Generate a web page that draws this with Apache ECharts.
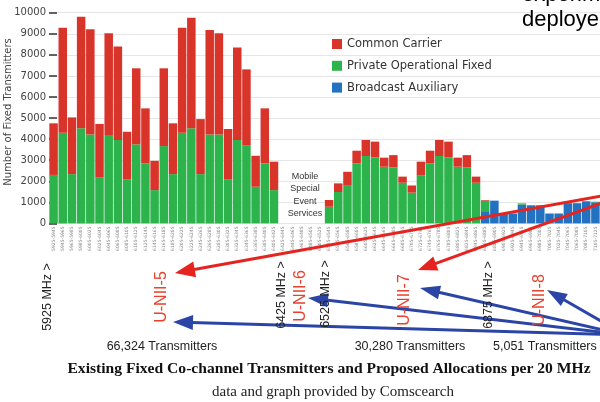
<!DOCTYPE html>
<html><head><meta charset="utf-8">
<script src="https://cdn.jsdelivr.net/npm/echarts/dist/echarts.min.js"></script>
<style>html,body{margin:0;padding:0;background:#fff;overflow:hidden}#c{width:600px;height:402px}</style>
</head><body><div id="c"></div>
<script>
// 20 MHz channel categories
const channels = [
 "5925-5945","5945-5965","5965-5985","5985-6005","6005-6025","6025-6045","6045-6065","6065-6085","6085-6105","6105-6125",
 "6125-6145","6145-6165","6165-6185","6185-6205","6205-6225","6225-6245","6245-6265","6265-6285","6285-6305","6305-6325",
 "6325-6345","6345-6365","6365-6385","6385-6405","6405-6425",
 "6425-6445","6445-6465","6465-6485","6485-6505","6505-6525",
 "6525-6545","6545-6565","6565-6585","6585-6605","6605-6625","6625-6645","6645-6665","6665-6685","6685-6705","6705-6725",
 "6725-6745","6745-6765","6765-6785","6785-6805","6805-6825","6825-6845","6845-6865",
 "6865-6885","6885-6905","6905-6925","6925-6945","6945-6965","6965-6985","6985-7005","7005-7025","7025-7045","7045-7065",
 "7065-7085","7085-7105","7105-7125"
];
const commonCarrier = [
 2450,4990,2690,5300,4990,2550,4830,4430,2250,3610,2610,1390,3690,2410,4990,5250,2610,4960,4800,2380,4390,3620,1470,2610,1350,
 null,null,null,null,null,
 320,410,630,600,760,750,430,580,290,340,640,600,760,750,430,580,290,
 30,0,0,0,0,0,0,0,0,0,0,0,0
];
const privateFixed = [
 2300,4300,2340,4510,4220,2170,4190,3960,2100,3750,2850,1580,3670,2340,4300,4510,2340,4220,4220,2100,3960,3690,1740,2850,1580,
 null,null,null,null,null,
 790,1490,1820,2850,3200,3130,2690,2660,1930,1460,2290,2850,3200,3130,2690,2660,1930,
 500,0,0,0,60,0,0,0,0,60,0,0,30
];
const broadcastAux = [
 0,0,0,0,0,0,0,0,0,0,0,0,0,0,0,0,0,0,0,0,0,0,0,0,0,
 null,null,null,null,null,
 0,0,0,0,0,0,0,0,0,0,0,0,0,0,0,0,0,
 580,1080,470,470,890,860,860,470,470,920,960,1050,1000
];
const seriesNames = ["Common Carrier","Private Operational Fixed","Broadcast Auxiliary"];
const bandLabels = ["U-NII-5","U-NII-6","U-NII-7","U-NII-8"];
const edgeLabels = ["5925 MHz >","6425 MHz >","6525 MHz >","6875 MHz >"];
const countLabels = ["66,324 Transmitters","30,280 Transmitters","5,051 Transmitters"];

const RED = '#d8342a', GREEN = '#2cb34c', BLUE = '#2372c2';
const AR = '#e5231f', AB = '#2b45a6';

function arrow(sx, sy, tx, ty, color, L, W) {
  const dx = tx - sx, dy = ty - sy, len = Math.hypot(dx, dy);
  const ux = dx / len, uy = dy / len, nx = -uy, ny = ux;
  const bx = tx - ux * L, by = ty - uy * L;
  return [
    {type:'line', z:50, shape:{x1:sx,y1:sy,x2:bx+ux*2,y2:by+uy*2}, style:{stroke:color,lineWidth:3}},
    {type:'polygon', z:51, shape:{points:[[tx,ty],[bx+nx*W/2,by+ny*W/2],[bx-nx*W/2,by-ny*W/2]]}, style:{fill:color}}
  ];
}
function vtext(x, y, text, size, color, family, weight) {
  return {type:'text', z:60, x:x, y:y, rotation:Math.PI/2,
    style:{text:text, x:0, y:0, align:'center', verticalAlign:'middle', fill:color,
      font:(weight||'normal') + ' ' + size + 'px ' + (family||'"Liberation Sans", Arial, sans-serif')}};
}
function htext(x, y, text, size, color, family, weight, align) {
  return {type:'text', z:60, x:x, y:y,
    style:{text:text, x:0, y:0, align:align||'center', verticalAlign:'middle', fill:color,
      font:(weight||'normal') + ' ' + size + 'px ' + (family||'"Liberation Sans", Arial, sans-serif')}};
}

const graphics = [];
graphics.push(...arrow(640,189,175,273,AR,20,16));
graphics.push(...arrow(640,189,418,270,AR,19,15));
graphics.push(...arrow(625,335,173,322,AB,20,15));
graphics.push(...arrow(625,335,308,298,AB,20,14));
graphics.push(...arrow(625,335,420,288,AB,20,14));
graphics.push(...arrow(625,335,547,290,AB,20,14));
const bandPos = [[162,297],[301,296],[405,300],[540,300]];
bandLabels.forEach((t,i)=>graphics.push(vtext(bandPos[i][0],bandPos[i][1],t,16,'#e8402c')));
const edgePos = [[48,297],[282,295],[326,294],[489,295]];
edgeLabels.forEach((t,i)=>graphics.push(vtext(edgePos[i][0],edgePos[i][1],t,12.5,'#222')));
graphics.push(htext(162,347,countLabels[0],12.5,'#222'));
graphics.push(htext(410,347,countLabels[1],12.5,'#222'));
graphics.push(htext(493,347,countLabels[2],12.5,'#222',null,'normal','left'));
graphics.push(htext(329,369,'Existing Fixed Co-channel Transmitters and Proposed Allocations per 20 MHz',15.6,'#111','"Liberation Serif","Times New Roman",serif','bold'));
graphics.push(htext(333,392,'data and graph provided by Comscearch',15,'#222','"Liberation Serif","Times New Roman",serif'));
graphics.push(vtext(8,112,'Number of Fixed Transmitters',10,'#444','"DejaVu Sans", sans-serif'));
graphics.push({type:'text', z:60, x:305, y:195, style:{text:'Mobile\nSpecial\nEvent\nServices', x:0, y:0, align:'center', verticalAlign:'middle', lineHeight:12.5, fill:'#333', font:'normal 9px "Liberation Sans", Arial, sans-serif'}});
graphics.push(htext(522,-5,'experimental',22,'#000',null,'normal','left'));
graphics.push(htext(522,20,'deployed',22,'#000',null,'normal','left'));

const chart = echarts.init(document.getElementById('c'), null, {renderer:'canvas'});
chart.setOption({
  animation:false,
  backgroundColor:'#fff',
  grid:{left:49, top:12.7, width:557, height:210.7, containLabel:false},
  legend:{
    data:seriesNames, orient:'vertical', left:327, top:33, itemWidth:10, itemHeight:10, itemGap:9.8,
    icon:'rect', textStyle:{fontSize:11.5, color:'#333', fontFamily:'"DejaVu Sans", sans-serif'}
  },
  xAxis:{
    type:'category', data:channels,
    axisLine:{show:false}, axisTick:{show:false},
    axisLabel:{interval:0, rotate:90, fontSize:4.5, color:'#888', margin:3, fontFamily:'"DejaVu Sans", sans-serif'}
  },
  yAxis:{
    type:'value', min:0, max:10000, interval:1000,
    axisLine:{show:false},
    axisTick:{show:true, inside:true, length:8, lineStyle:{color:'#333', width:1.5}},
    axisLabel:{fontSize:10, color:'#444', margin:3, fontFamily:'"DejaVu Sans", sans-serif', formatter:function(v){return String(v);}},
    splitLine:{lineStyle:{color:'#e6e6e6'}}
  },
  series:[
    {name:seriesNames[2], type:'bar', stack:'t', data:broadcastAux, itemStyle:{color:BLUE}, barWidth:8.5},
    {name:seriesNames[1], type:'bar', stack:'t', data:privateFixed, itemStyle:{color:GREEN}, barWidth:8.5},
    {name:seriesNames[0], type:'bar', stack:'t', data:commonCarrier, itemStyle:{color:RED}, barWidth:8.5}
  ],
  graphic:graphics
});
</script></body></html>
